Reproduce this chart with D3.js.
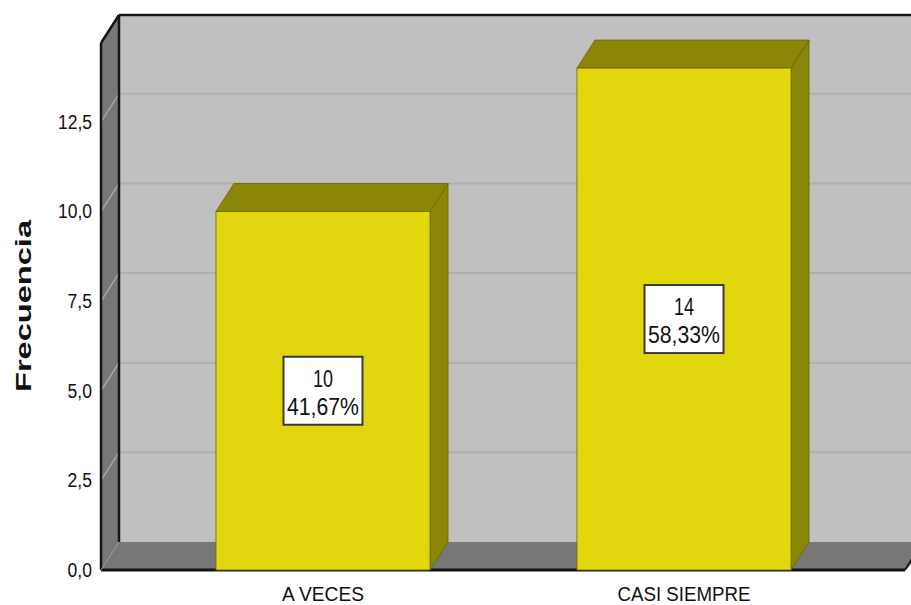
<!DOCTYPE html>
<html>
<head>
<meta charset="utf-8">
<script src="https://cdn.jsdelivr.net/npm/d3@7"></script>
<style>
  body { margin: 0; background: #fff; }
  text { font-family: "Liberation Sans Narrow", "Liberation Sans", Arial, sans-serif; fill: #111; }
</style>
</head>
<body>
<div id="chart"></div>
<script>
// data
var categories = ["A VECES", "CASI SIEMPRE"];
var counts = [10, 14];
var percents = ["41,67%", "58,33%"];
var yTicks = [0, 2.5, 5, 7.5, 10, 12.5];

var svgWidth = 911;
var svgHeight = 605;

// 3d depth offset
var dx = 18, dy = -28;

var svg = d3.select("#chart")
    .append("svg")
    .attr("width", svgWidth)
    .attr("height", svgHeight);

var yScale = d3.scaleLinear()
    .domain([0, 14.7])
    .range([570, 43]);

var xScale = d3.scaleBand()
    .domain(categories)
    .range([142.5, 864.5])
    .paddingInner(0.407)
    .paddingOuter(0.2035);

var left = 101, right = 905;
var y0 = yScale(0), yTop = yScale(14.7);

// narrow look: squeeze text to a width
function narrow(sel, perChar) {
    sel.attr("textLength", function() { return this.textContent.length * perChar; })
       .attr("lengthAdjust", "spacingAndGlyphs");
}

// back wall
svg.append("rect")
    .attr("x", left + dx)
    .attr("y", yTop + dy)
    .attr("width", right - left + 10)
    .attr("height", y0 - yTop)
    .attr("fill", "#c0c0c0");

// grid on back wall
svg.selectAll(".bgrid")
    .data(yTicks.slice(1))
    .enter()
    .append("line")
    .attr("x1", left + dx)
    .attr("x2", svgWidth)
    .attr("y1", d => yScale(d) + dy)
    .attr("y2", d => yScale(d) + dy)
    .attr("stroke", "#aeaeae")
    .attr("stroke-width", 2);

// left wall
svg.append("polygon")
    .attr("points", [[left, y0], [left, yTop], [left + dx, yTop + dy], [left + dx, y0 + dy]].join(" "))
    .attr("fill", "#777777");

svg.selectAll(".lgrid")
    .data(yTicks.slice(1))
    .enter()
    .append("line")
    .attr("x1", left)
    .attr("x2", left + dx)
    .attr("y1", d => yScale(d))
    .attr("y2", d => yScale(d) + dy)
    .attr("stroke", "#a6a6a6")
    .attr("stroke-width", 1.5);

// floor
svg.append("polygon")
    .attr("points", [[left, y0], [left + dx, y0 + dy], [right + dx + 10, y0 + dy], [right, y0]].join(" "))
    .attr("fill", "#777777");

// frame edges
var edge = svg.append("g").attr("stroke", "#151515").attr("fill", "none");
edge.append("line").attr("x1", left + dx).attr("x2", left + dx)
    .attr("y1", yTop + dy).attr("y2", y0 + dy).attr("stroke-width", 2.5);
edge.append("line").attr("x1", left).attr("x2", left)
    .attr("y1", yTop).attr("y2", y0).attr("stroke-width", 2.5);
edge.append("line").attr("x1", left).attr("x2", left + dx)
    .attr("y1", yTop).attr("y2", yTop + dy).attr("stroke-width", 2.5);
edge.append("line").attr("x1", left + dx).attr("x2", svgWidth)
    .attr("y1", yTop + dy).attr("y2", yTop + dy).attr("stroke-width", 2.5);
edge.append("line").attr("x1", left).attr("x2", right)
    .attr("y1", y0).attr("y2", y0).attr("stroke-width", 3);
edge.append("line").attr("x1", right).attr("x2", right + dx)
    .attr("y1", y0).attr("y2", y0 + dy).attr("stroke-width", 2);
edge.append("line").attr("x1", left).attr("x2", left + dx)
    .attr("y1", y0).attr("y2", y0 + dy).attr("stroke", "#999").attr("stroke-width", 1);

// bars
var bars = svg.selectAll(".bar")
    .data(counts)
    .enter()
    .append("g")
    .attr("stroke", "#6b6604")
    .attr("stroke-width", 0.8);

bars.append("polygon")
    .attr("points", (d, i) => {
        var x1 = xScale(categories[i]) + xScale.bandwidth();
        var yv = yScale(d);
        return [[x1, yv], [x1 + dx, yv + dy], [x1 + dx, y0 + dy], [x1, y0]].join(" ");
    })
    .attr("fill", "#8b8508");

bars.append("polygon")
    .attr("points", (d, i) => {
        var x0 = xScale(categories[i]);
        var x1 = x0 + xScale.bandwidth();
        var yv = yScale(d);
        return [[x0, yv], [x0 + dx, yv + dy], [x1 + dx, yv + dy], [x1, yv]].join(" ");
    })
    .attr("fill", "#8b8508");

bars.append("rect")
    .attr("x", (d, i) => xScale(categories[i]))
    .attr("y", d => yScale(d))
    .attr("width", xScale.bandwidth())
    .attr("height", d => y0 - yScale(d))
    .attr("fill", "#e2d70f");

// value boxes
var boxes = svg.selectAll(".lbl")
    .data(counts)
    .enter()
    .append("g")
    .attr("transform", (d, i) => `translate(${xScale(categories[i]) + xScale.bandwidth() / 2}, ${(yScale(d) + y0) / 2})`);

boxes.append("rect")
    .attr("x", -39.5)
    .attr("y", -34)
    .attr("width", 79)
    .attr("height", 68)
    .attr("fill", "#fff")
    .attr("stroke", "#3a3a3a")
    .attr("stroke-width", 2);

boxes.append("text")
    .attr("text-anchor", "middle")
    .attr("y", -4)
    .attr("font-size", "24px")
    .text(d => d)
    .call(narrow, 10);

boxes.append("text")
    .attr("text-anchor", "middle")
    .attr("y", 24)
    .attr("font-size", "24px")
    .text((d, i) => percents[i])
    .call(narrow, 12);

// y tick labels
svg.selectAll(".ytick")
    .data(yTicks)
    .enter()
    .append("text")
    .attr("x", 92)
    .attr("y", d => yScale(d) + 7)
    .attr("text-anchor", "end")
    .attr("font-size", "20px")
    .text(d => d3.format(".1f")(d).replace(".", ","))
    .attr("textLength", function() { return (this.textContent.length - 1) * 9.6 + 5.2; })
    .attr("lengthAdjust", "spacingAndGlyphs");

// category labels
svg.selectAll(".xlab")
    .data(categories)
    .enter()
    .append("text")
    .attr("x", d => xScale(d) + xScale.bandwidth() / 2)
    .attr("y", 601)
    .attr("text-anchor", "middle")
    .attr("font-size", "21px")
    .text(d => d)
    .attr("textLength", d => d.length > 8 ? 133 : 82)
    .attr("lengthAdjust", "spacingAndGlyphs");

// axis title
svg.append("g")
    .attr("transform", "translate(31, 306)")
    .append("text")
    .attr("transform", "rotate(-90)")
    .attr("text-anchor", "middle")
    .attr("font-family", "Liberation Sans, Arial, sans-serif")
    .attr("font-weight", "bold")
    .attr("font-size", "22px")
    .attr("textLength", 172)
    .attr("lengthAdjust", "spacingAndGlyphs")
    .text("Frecuencia");
</script>
</body>
</html>
